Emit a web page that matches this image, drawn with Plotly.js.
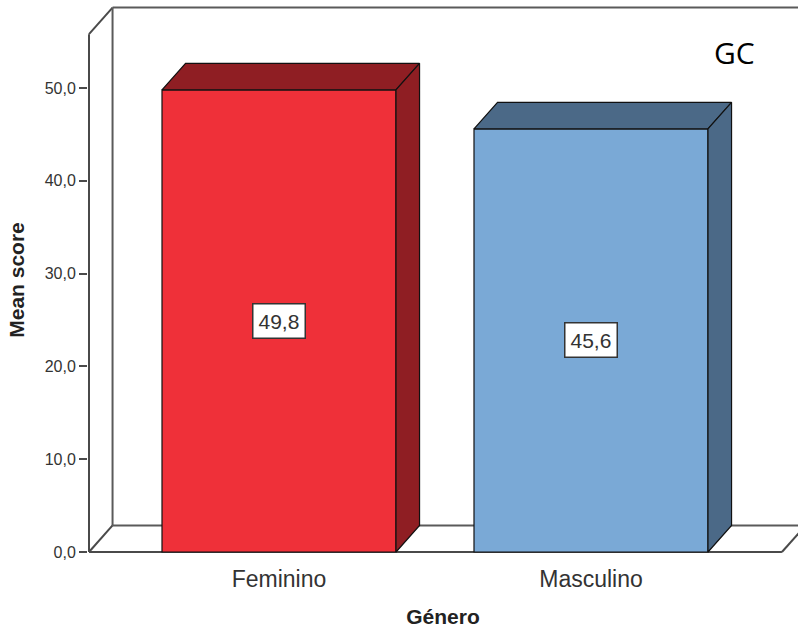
<!DOCTYPE html>
<html>
<head>
<meta charset="utf-8">
<script src="https://cdn.plot.ly/plotly-3.0.1.min.js"></script>
<style>
  html, body { margin: 0; padding: 0; background: #fff; }
  #chart { width: 798px; height: 628px; }
</style>
</head>
<body>
<div id="chart"></div>
<script>
// Mean score by gender
const categories = ['Feminino', 'Masculino'];
const meanScores = [49.8, 45.6];
const yTickValues = [0, 10, 20, 30, 40, 50];
const groupLabel = 'GC';

// Colours of the front faces and of the shaded top/side faces
const frontColors = ['#EF3039', '#7AA9D6'];
const shadeColors = ['#8F1E23', '#4B6987'];

// Box geometry (axis units): depth offset of the 3D look and frame extent
const DEPTH_X = 0.0755;
const DEPTH_Y = 2.86;
const BAR_WIDTH = 0.75;
const FRAME_LEFT = -0.609;
const FRAME_RIGHT = 1.612;
const FRAME_TOP = 55.8;
const FAR_RIGHT = 3;

const FONT = 'Liberation Sans, Arial, sans-serif';
const FRAME_COLOR = '#4a4a4a';

const fmt = v => v.toFixed(1).replace('.', ',');

const traces = [];

// Front faces of the bars
traces.push({
  type: 'bar',
  x: categories.map((_, i) => i),
  y: meanScores,
  width: BAR_WIDTH,
  marker: { color: frontColors, line: { color: '#111', width: 1.2 } },
  hoverinfo: 'skip',
  showlegend: false
});

// Top and side faces of each bar
categories.forEach((cat, i) => {
  const v = meanScores[i];
  const x0 = i - BAR_WIDTH / 2;
  const x1 = i + BAR_WIDTH / 2;
  traces.push({
    type: 'scatter', mode: 'lines', fill: 'toself',
    x: [x0, x0 + DEPTH_X, x1 + DEPTH_X, x1, x0],
    y: [v, v + DEPTH_Y, v + DEPTH_Y, v, v],
    fillcolor: shadeColors[i],
    line: { color: '#111', width: 1.2 },
    hoverinfo: 'skip', showlegend: false
  });
  traces.push({
    type: 'scatter', mode: 'lines', fill: 'toself',
    x: [x1, x1 + DEPTH_X, x1 + DEPTH_X, x1, x1],
    y: [0, DEPTH_Y, v + DEPTH_Y, v, 0],
    fillcolor: shadeColors[i],
    line: { color: '#111', width: 1.2 },
    hoverinfo: 'skip', showlegend: false
  });
});

// Frame of the 3D box (front edges, back wall and floor)
const seg = (x0, y0, x1, y1, color) => ({
  type: 'line', xref: 'x', yref: 'y', layer: 'below',
  x0, y0, x1, y1,
  line: { color: color || FRAME_COLOR, width: 2 }
});
const BX = FRAME_LEFT + DEPTH_X;
const shapes = [
  seg(FRAME_LEFT, 0, FRAME_LEFT, FRAME_TOP),
  seg(FRAME_LEFT, FRAME_TOP, BX, FRAME_TOP + DEPTH_Y),
  seg(BX, FRAME_TOP + DEPTH_Y, FAR_RIGHT, FRAME_TOP + DEPTH_Y, '#5a5a5a'),
  seg(BX, DEPTH_Y, BX, FRAME_TOP + DEPTH_Y, '#5a5a5a'),
  seg(FRAME_LEFT, 0, BX, DEPTH_Y),
  seg(BX, DEPTH_Y, FAR_RIGHT, DEPTH_Y, '#5a5a5a'),
  seg(FRAME_LEFT, 0, FRAME_RIGHT, 0),
  seg(FRAME_RIGHT, 0, FRAME_RIGHT + DEPTH_X, DEPTH_Y)
];

// Value labels in boxes at mid-height of each bar
const annotations = categories.map((cat, i) => ({
  x: i, y: meanScores[i] / 2, xref: 'x', yref: 'y',
  text: fmt(meanScores[i]),
  showarrow: false,
  font: { family: FONT, size: 21, color: '#333' },
  bgcolor: '#ffffff',
  bordercolor: '#333',
  borderwidth: 1.5,
  borderpad: 5
}));

annotations.push({
  xref: 'paper', yref: 'paper', x: 0.911, y: 0.913,
  xanchor: 'center', yanchor: 'middle',
  text: groupLabel, showarrow: false,
  font: { family: 'Open Sans, Noto Sans, sans-serif', size: 30, color: '#000' }
});

const layout = {
  width: 798, height: 628,
  margin: { l: 88, r: 0, t: 4, b: 72 },
  paper_bgcolor: '#fff', plot_bgcolor: '#fff',
  separators: ',.',
  showlegend: false,
  xaxis: {
    range: [-0.6122, 1.6635],
    tickvals: categories.map((_, i) => i),
    ticktext: categories,
    ticks: 'outside', ticklen: 2, tickcolor: 'rgba(0,0,0,0)',
    tickfont: { family: FONT, size: 23, color: '#333' },
    showgrid: false, zeroline: false, showline: false,
    fixedrange: true,
    title: { text: 'Género', font: { family: FONT, size: 21, color: '#222', weight: 'bold' }, standoff: 18 }
  },
  yaxis: {
    range: [-0.431, 59.05],
    tickvals: yTickValues,
    tickformat: '.1f',
    ticks: 'outside', ticklen: 8, tickwidth: 2, tickcolor: FRAME_COLOR,
    tickfont: { family: FONT, size: 16, color: '#333' },
    showgrid: false, zeroline: false, showline: false,
    fixedrange: true,
    title: { text: 'Mean score', font: { family: FONT, size: 21, color: '#222', weight: 'bold' }, standoff: 14 }
  },
  shapes: shapes,
  annotations: annotations
};

Plotly.newPlot('chart', traces, layout, { displayModeBar: false, staticPlot: true });
</script>
</body>
</html>
